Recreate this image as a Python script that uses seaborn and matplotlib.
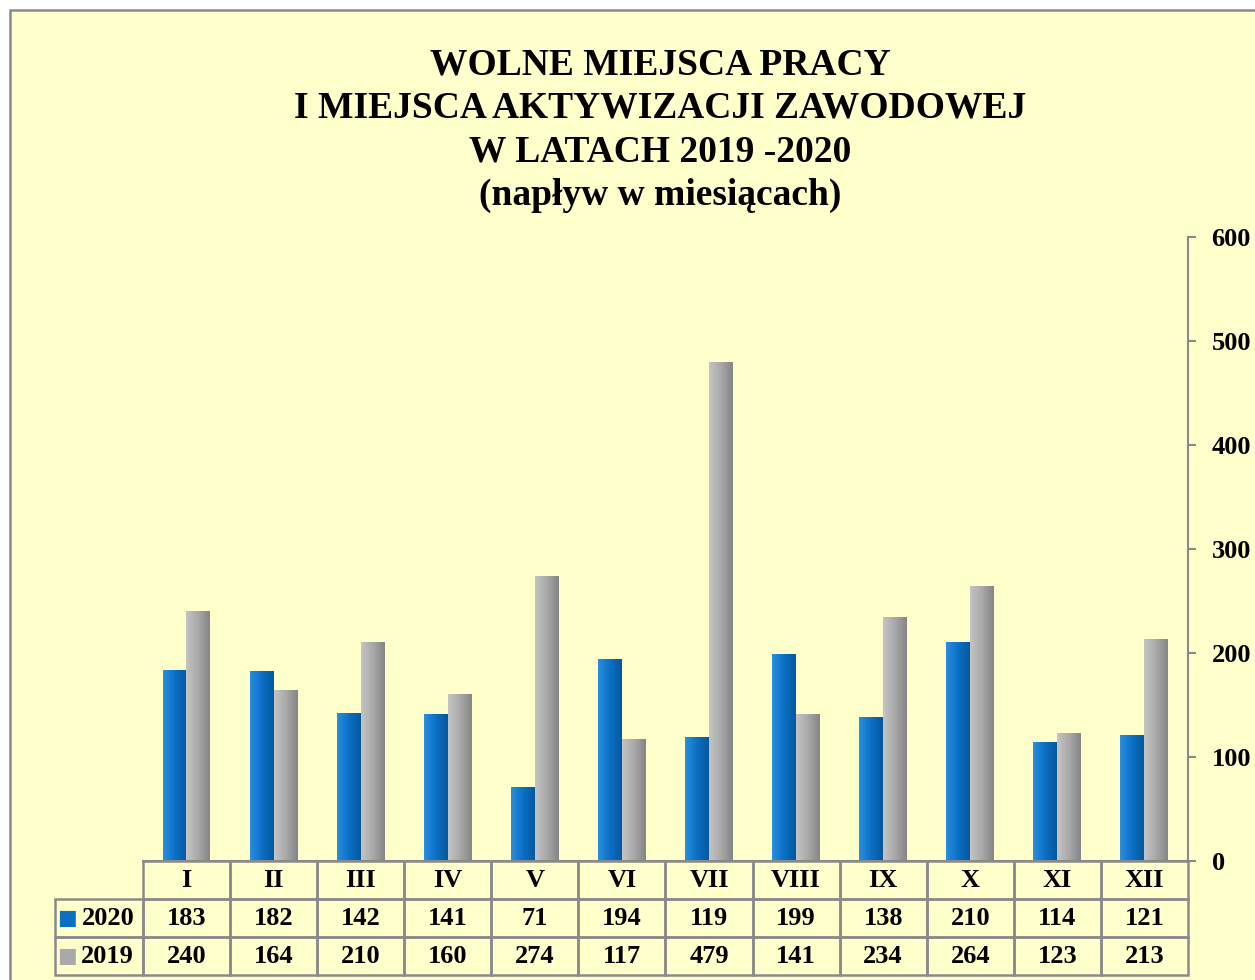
import numpy as np
import pandas as pd
import seaborn as sns
import matplotlib.pyplot as plt
from matplotlib.patches import Rectangle
from matplotlib.colors import LinearSegmentedColormap

# dane z wykresu
months = ['I', 'II', 'III', 'IV', 'V', 'VI', 'VII', 'VIII', 'IX', 'X', 'XI', 'XII']
years = ['2020', '2019']
values_2020 = [183, 182, 142, 141, 71, 194, 119, 199, 138, 210, 114, 121]
values_2019 = [240, 164, 210, 160, 274, 117, 479, 141, 234, 264, 123, 213]
y_ticks = [0, 100, 200, 300, 400, 500, 600]

title = ("WOLNE MIEJSCA PRACY\nI MIEJSCA AKTYWIZACJI ZAWODOWEJ\n"
         "W LATACH 2019 -2020\n(napływ w miesiącach)")

colors = {'2020': '#0b70c4', '2019': '#a9a9a9'}
shades = {'2020': ['#2a8fe0', '#0b70c4', '#05589e'],
          '2019': ['#c4c4c4', '#a9a9a9', '#858585']}
edge = '#8a8a8a'

df = pd.DataFrame({
    'miesiac': months * 2,
    'rok': ['2020'] * len(months) + ['2019'] * len(months),
    'liczba': values_2020 + values_2019,
})

sns.set_theme(style='white')
plt.rcParams['font.family'] = ['Liberation Serif', 'DejaVu Serif']
plt.rcParams['font.weight'] = 'bold'
plt.rcParams['text.color'] = 'black'

fig = plt.figure(figsize=(12.55, 9.8), dpi=100, facecolor='white')
# tlo i ramka
fig.add_artist(Rectangle((9.5 / 1255, -0.05), 1.1, (980 - 10.5) / 980 + 0.05,
                         transform=fig.transFigure, facecolor='#FFFFCC',
                         edgecolor=edge, linewidth=1.8, zorder=-5))

ax = fig.add_axes([0.1139, 0.1214, 0.8327, 0.6367])
ax.set_facecolor('none')

sns.barplot(data=df, x='miesiac', y='liczba', hue='rok', hue_order=years,
            palette=colors, width=0.55, saturation=1, errorbar=None,
            legend=False, linewidth=0, ax=ax)

# cieniowanie slupkow (efekt 3D)
grad = np.linspace(0, 1, 64).reshape(1, -1)
n = len(months)
for i, bar in enumerate(ax.patches[:2 * n]):
    yr = years[i // n]
    cmap = LinearSegmentedColormap.from_list(yr, shades[yr])
    x0, w, h = bar.get_x(), bar.get_width(), bar.get_height()
    ax.imshow(grad, cmap=cmap, aspect='auto', extent=[x0, x0 + w, 0, h],
              clip_path=bar, zorder=bar.get_zorder() + 0.1)

ax.set_xlim(-0.5, 11.5)
ax.set_ylim(0, 600)
ax.set_yticks(y_ticks)
ax.set_xticks([])
ax.set_xlabel('')
ax.set_ylabel('')
ax.yaxis.tick_right()
ax.tick_params(axis='y', right=True, left=False, labelright=True, labelleft=False,
               direction='out', length=6, width=1.5, color=edge, pad=11,
               labelsize=19, labelcolor='black')
for side in ['top', 'left']:
    ax.spines[side].set_visible(False)
for side in ['right', 'bottom']:
    ax.spines[side].set_color(edge)
    ax.spines[side].set_linewidth(1.5)
ax.grid(False)

# tabela z danymi pod wykresem
row_frac = 38 / 624
lab_frac = 88 / 1045
cell_text = [['2020'] + [str(v) for v in values_2020],
             ['2019'] + [str(v) for v in values_2019]]
tbl = ax.table(cellText=cell_text, colLabels=[''] + months,
               colWidths=[lab_frac] + [1 / 12] * 12, cellLoc='center',
               bbox=[-lab_frac, -3 * row_frac, 1 + lab_frac, 3 * row_frac])
tbl.auto_set_font_size(False)
tbl.set_fontsize(19)
for (r, c), cell in tbl.get_celld().items():
    cell.set_edgecolor(edge)
    cell.set_linewidth(1.8)
    cell.set_facecolor('none')
    cell.get_text().set_fontweight('bold')
    cell.get_text().set_color('black')
    if r == 0 and c == 0:
        cell.visible_edges = 'open'
    elif c == 0:
        cell._loc = 'right'
        cell.get_text().set_ha('right')

# znaczniki legendy w tabeli
for i, yr in enumerate(years):
    yc = -(row_frac * (1.5 + i))
    ax.text(-0.0725, yc, '■', color=colors[yr], fontsize=15, ha='center',
            va='center', family='DejaVu Sans', transform=ax.transAxes)

fig.text(0.526, 0.952, title, ha='center', va='top', fontsize=27,
         fontweight='bold', linespacing=1.32, color='black')

fig.savefig('out.png', dpi=100)
